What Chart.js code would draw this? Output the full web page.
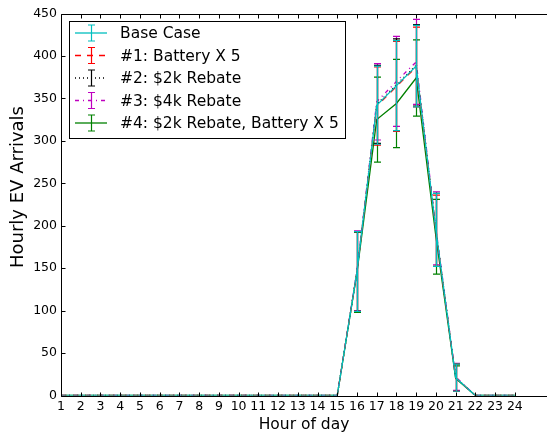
<!DOCTYPE html>
<html lang="en">
<head>
<meta charset="UTF-8">
<title>Hourly EV Arrivals</title>
<script src="https://cdn.jsdelivr.net/npm/chart.js@4.4.0/dist/chart.umd.min.js"></script>
<style>
  html, body {margin: 0; padding: 0; background: #fff;}
  #wrap {width: 547px; height: 436px;}
</style>
</head>
<body>
<div id="wrap"><canvas id="ev_chart"></canvas></div>
<script>
// hours 1..24
var hours = [1,2,3,4,5,6,7,8,9,10,11,12,13,14,15,16,17,18,19,20,21,22,23,24];
var yTicks = [0,50,100,150,200,250,300,350,400,450];
var yTitle = 'Hourly EV Arrivals';

var baseCase   = [0,0,0,0,0,0,0,0,0,0,0,0,0,0,0,146,342,365,388,195,21,0,0,0];
var baseErr    = [0,0,0,0,0,0,0,0,0,0,0,0,0,0,0,47,46,53,48,43,16,0,0,0];
var battery5   = [0,0,0,0,0,0,0,0,0,0,0,0,0,0,0,146,341,364,387,194,21,0,0,0];
var battery5Err= [0,0,0,0,0,0,0,0,0,0,0,0,0,0,0,47,46,53,47,42,16,0,0,0];
var rebate2k   = [0,0,0,0,0,0,0,0,0,0,0,0,0,0,0,146,343,366,389,195,21,0,0,0];
var rebate2kErr= [0,0,0,0,0,0,0,0,0,0,0,0,0,0,0,47,46,54,48,43,16,0,0,0];
var rebate4k   = [0,0,0,0,0,0,0,0,0,0,0,0,0,0,0,147,346,370,393,197,22,0,0,0];
var rebate4kErr= [0,0,0,0,0,0,0,0,0,0,0,0,0,0,0,47,45,53,50,43,16,0,0,0];
var combo      = [0,0,0,0,0,0,0,0,0,0,0,0,0,0,0,145,325,344,374,187,20,0,0,0];
var comboErr   = [0,0,0,0,0,0,0,0,0,0,0,0,0,0,0,47,50,52,45,44,15,0,0,0];

var seriesNames = ['Base Case', '#1: Battery X 5', '#2: $2k Rebate', '#3: $4k Rebate', '#4: $2k Rebate, Battery X 5'];
var seriesColors = ['#00BFBF', '#FF0000', '#000000', '#BF00BF', '#008000'];
var seriesDash = [[], [6, 6], [1, 3], [4, 4, 1, 4], []];

Chart.defaults.font.family = "'DejaVu Sans', sans-serif";
Chart.defaults.color = '#000';

function pts(vals) {
  return hours.map(function(h, i) { return {x: h, y: vals[i]}; });
}

var allVals = [baseCase, battery5, rebate2k, rebate4k, combo];
var allErrs = [baseErr, battery5Err, rebate2kErr, rebate4kErr, comboErr];

var datasets = allVals.map(function(v, i) {
  return {
    label: seriesNames[i],
    data: pts(v),
    err: allErrs[i],
    borderColor: seriesColors[i],
    borderDash: seriesDash[i],
    borderWidth: 1.3,
    pointRadius: 0,
    tension: 0,
    fill: false
  };
});

// vertical error bars with caps, drawn right after each line
var errorBars = {
  id: 'errorBars',
  afterDatasetDraw: function(chart, args) {
    var ds = chart.data.datasets[args.index];
    var xs = chart.scales.x, ys = chart.scales.y;
    var ctx = chart.ctx;
    ctx.save();
    ctx.strokeStyle = ds.borderColor;
    ctx.lineWidth = 1.2;
    ctx.setLineDash([]);
    ds.data.forEach(function(p, i) {
      var e = ds.err[i];
      if (!e) return;
      var x = Math.round(xs.getPixelForValue(p.x)) + 0.5;
      var y1 = ys.getPixelForValue(p.y + e);
      var y2 = ys.getPixelForValue(p.y - e);
      ctx.beginPath();
      ctx.moveTo(x, y1); ctx.lineTo(x, y2);
      ctx.moveTo(x - 3.5, y1); ctx.lineTo(x + 3.5, y1);
      ctx.moveTo(x - 3.5, y2); ctx.lineTo(x + 3.5, y2);
      ctx.stroke();
    });
    ctx.restore();
  }
};

// matplotlib style frame with inward ticks, y title, legend box
var frameAndLegend = {
  id: 'frameAndLegend',
  afterDraw: function(chart) {
    var ctx = chart.ctx;
    var a = chart.chartArea;
    var xs = chart.scales.x, ys = chart.scales.y;
    ctx.save();
    ctx.strokeStyle = '#000';
    ctx.lineWidth = 1;
    ctx.setLineDash([]);
    var L = Math.round(a.left) + 0.5, T = Math.round(a.top) + 0.5, B = Math.round(a.bottom) + 0.5;
    ctx.beginPath();
    ctx.moveTo(L, B); ctx.lineTo(L, T); ctx.lineTo(chart.width, T);
    ctx.moveTo(L, B); ctx.lineTo(chart.width, B);
    hours.forEach(function(h) {
      var x = Math.round(xs.getPixelForValue(h)) + 0.5;
      ctx.moveTo(x, B); ctx.lineTo(x, B - 4);
      ctx.moveTo(x, T); ctx.lineTo(x, T + 4);
    });
    yTicks.forEach(function(v) {
      var y = Math.round(ys.getPixelForValue(v)) + 0.5;
      ctx.moveTo(L, y); ctx.lineTo(L + 4, y);
    });
    ctx.stroke();

    // y axis title
    ctx.save();
    ctx.translate(18, 187);
    ctx.rotate(-Math.PI / 2);
    ctx.font = "18px 'DejaVu Sans', sans-serif";
    ctx.fillStyle = '#000';
    ctx.textAlign = 'center';
    ctx.textBaseline = 'middle';
    ctx.fillText(yTitle, 0, 0);
    ctx.restore();

    // legend
    var lx = 69.5, ly = 21.5, lw = 276, lh = 117;
    ctx.fillStyle = '#fff';
    ctx.fillRect(lx, ly, lw, lh);
    ctx.strokeRect(lx, ly, lw, lh);
    ctx.font = "15.5px 'DejaVu Sans', sans-serif";
    ctx.textBaseline = 'middle';
    seriesNames.forEach(function(name, i) {
      var cy = 33 + i * 22.5;
      ctx.strokeStyle = seriesColors[i];
      ctx.lineWidth = 1.3;
      ctx.setLineDash(seriesDash[i]);
      ctx.beginPath();
      ctx.moveTo(75, cy); ctx.lineTo(107, cy);
      ctx.stroke();
      ctx.setLineDash([]);
      ctx.lineWidth = 1.2;
      ctx.beginPath();
      ctx.moveTo(91.5, cy - 8); ctx.lineTo(91.5, cy + 8);
      ctx.moveTo(88, cy - 8); ctx.lineTo(95, cy - 8);
      ctx.moveTo(88, cy + 8); ctx.lineTo(95, cy + 8);
      ctx.stroke();
      ctx.fillStyle = '#000';
      ctx.fillText(name, 120, cy + 1);
    });
    ctx.restore();
  }
};

var ctx = document.getElementById('ev_chart');
new Chart(ctx, {
  type: 'line',
  data: {datasets: datasets},
  plugins: [errorBars, frameAndLegend],
  options: {
    responsive: true,
    maintainAspectRatio: false,
    animation: false,
    layout: {padding: {top: 13.5, right: 0, left: 0, bottom: 0}},
    plugins: {legend: {display: false}, tooltip: {enabled: false}},
    scales: {
      x: {
        type: 'linear',
        min: 1,
        max: 25.63,
        afterBuildTicks: function(s) { s.ticks = hours.map(function(h) { return {value: h}; }); },
        afterFit: function(s) { s.height = 40.5; },
        grid: {display: false, drawTicks: false},
        border: {display: false},
        ticks: {font: {size: 12.5}, padding: 4, maxRotation: 0, autoSkip: false},
        title: {display: true, text: 'Hour of day', font: {size: 15.5}, padding: {top: 0, bottom: 2}}
      },
      y: {
        min: 0,
        max: 450,
        afterBuildTicks: function(s) { s.ticks = yTicks.map(function(v) { return {value: v}; }); },
        afterFit: function(s) { s.width = 61; },
        grid: {display: false, drawTicks: false},
        border: {display: false},
        ticks: {font: {size: 12.5}, padding: 4},
        title: {display: false}
      }
    }
  }
});
</script>
</body>
</html>
